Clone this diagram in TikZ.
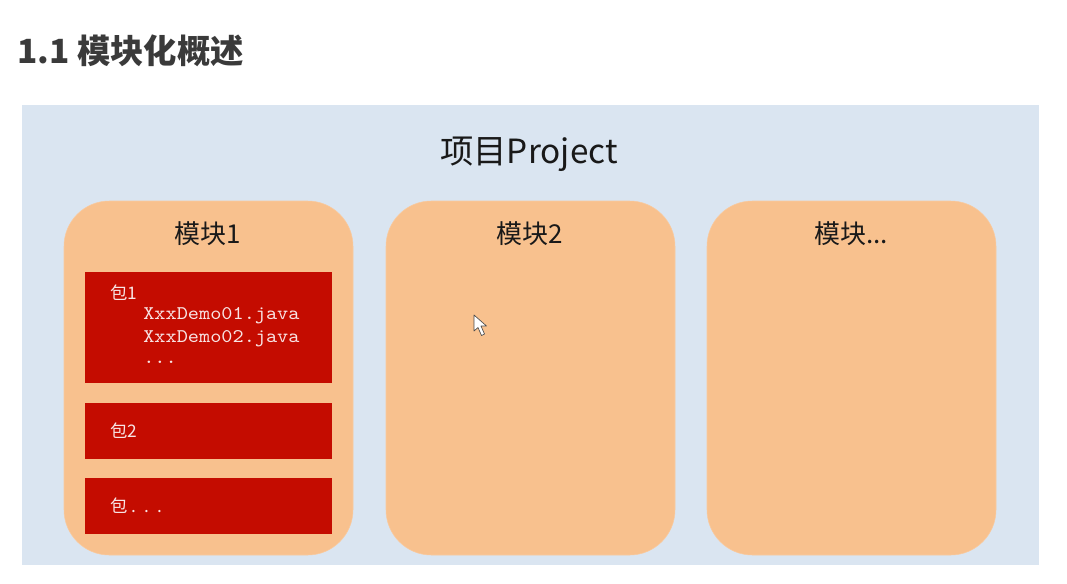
\documentclass[tikz,border=0pt]{standalone}
\usepackage{fontspec}
\setmainfont{Noto Sans CJK SC}
\newfontfamily\codefont{lmmono10-regular.otf}[FakeStretch=1.1]
\definecolor{bgblue}{HTML}{DAE5F1}
\definecolor{modorange}{HTML}{F8C18E}
\definecolor{pkgred}{HTML}{C40C00}
\definecolor{pkgtext}{HTML}{F8E4E4}
\definecolor{titlegray}{HTML}{3A3A3A}
\begin{document}
\begin{tikzpicture}[x=0.75pt,y=-0.75pt,
  module/.style={fill=modorange,draw=modorange!85!white,line width=0.4pt,rounded corners=34pt},
  pkg/.style={fill=pkgred,draw=none},
  modlabel/.style={font=\fontsize{19.5}{22}\selectfont,text=black!90,inner sep=0pt},
  pkglabel/.style={font=\fontsize{13}{15}\selectfont,text=pkgtext,anchor=west,inner sep=0pt},
  codelabel/.style={font=\codefont\fontsize{14.5}{16}\selectfont,text=pkgtext,anchor=west,inner sep=0pt}]
\useasboundingbox (0,0) rectangle (1067,583);
\fill[white] (0,0) rectangle (1067,583);
% title
\node[anchor=west,inner sep=0pt,font=\bfseries\fontsize{25}{28}\selectfont,text=titlegray] (title) at (17,51) {1.1 模块化概述};
% project background
\fill[bgblue] (22,105) rectangle (1039,565);
\node[inner sep=0pt,font=\fontsize{25}{29}\selectfont,text=black!90] (proj) at (529,154) {项目Project};
% modules
\draw[module] (64,201) rectangle (353,555);
\draw[module] (386,201) rectangle (675,555);
\draw[module] (707,201) rectangle (996,555);
\node[modlabel] (m1) at (208,234) {模块1};
\node[modlabel] (m2) at (530,234) {模块2};
\node[modlabel] (m3) at (851,234) {模块...};
% packages
\fill[pkg] (85,272) rectangle (332,383);
\fill[pkg] (85,403) rectangle (332,459);
\fill[pkg] (85,478) rectangle (332,534);
\node[pkglabel] (p1) at (110,293) {包1};
\node[codelabel] (c1) at (143,316) {XxxDemo01.java};
\node[codelabel] (c2) at (143,339) {XxxDemo02.java};
\node[codelabel] (c3) at (143,362) {...};
\node[pkglabel] (p2) at (110,431) {包2};
\node[pkglabel] (p3) at (110,506) {包\hspace{3pt}.\hspace{6pt}.\hspace{6pt}.};
% mouse cursor
\draw[fill=white,draw=black!70,line width=0.5pt,line join=round]
  (474,315) -- (474,331) -- (478,327.5) -- (481.5,335.5) -- (484.5,334) -- (481,326) -- (486.5,326) -- cycle;
\end{tikzpicture}
\end{document}
